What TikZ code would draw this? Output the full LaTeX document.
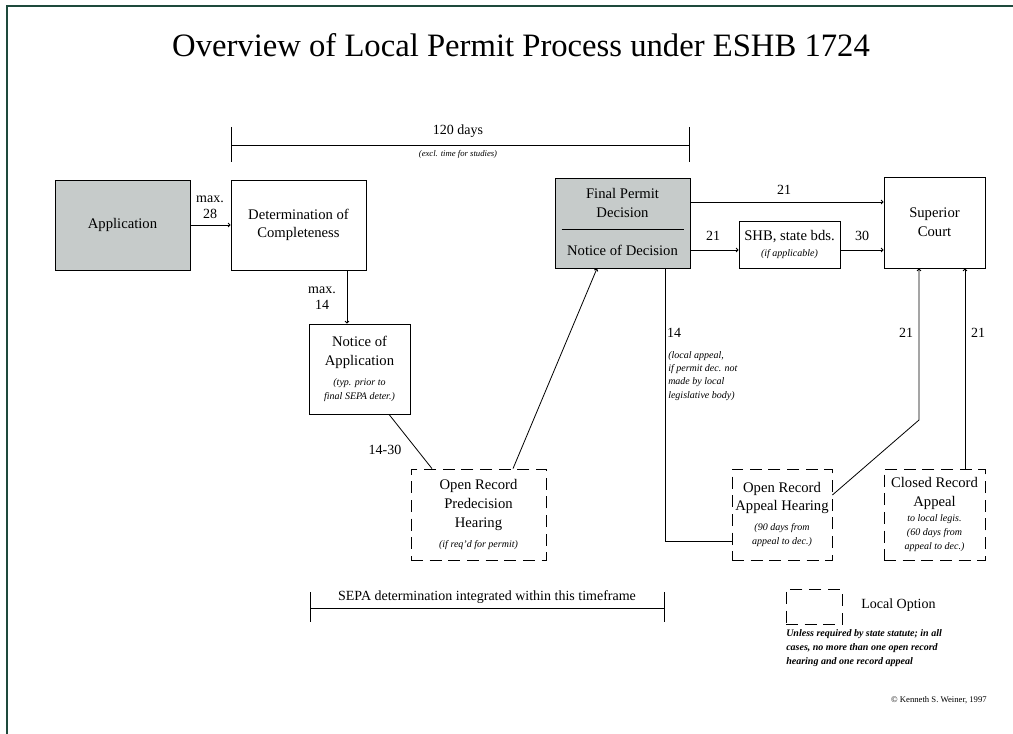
\documentclass[tikz,border=0pt]{standalone}
\usepackage{fontspec}
\setmainfont{Liberation Serif}
\usetikzlibrary{arrows.meta,calc}

\definecolor{boxgray}{RGB}{198,203,202}
\definecolor{framegreen}{RGB}{30,74,60}

\newcommand{\boxfont}{\fontsize{11}{14}\selectfont}
\newcommand{\notefont}{\fontsize{7.5}{9.5}\selectfont\itshape}

\tikzset{
  box/.style={draw, line width=0.6pt, align=center, inner sep=1pt, font=\boxfont},
  shaded/.style={box, fill=boxgray},
  local/.style={box, dashed, dash pattern=on 9pt off 5pt},
  lbl/.style={inner sep=0pt, align=center, font=\fontsize{10.5}{12}\selectfont},
  line/.style={draw, line width=0.6pt},
  conn/.style={line, -{Straight Barb[length=1.5pt,width=3pt]}},
}

\begin{document}
\begin{tikzpicture}[x=0.75pt,y=0.75pt,yscale=-1,xscale=1]
\useasboundingbox (0,0) rectangle (1013,734);

% frame and title
\draw[framegreen, line width=2.2pt] (7,734) -- (7,6) -- (1013,6);
\node[font=\fontsize{24.5}{30}\selectfont] (title) at (521,45) {Overview of Local Permit Process under ESHB 1724};

% 120 days span
\coordinate (ta) at (231,145);
\coordinate (tb) at (689,145);
\draw[line] (ta) -- (tb);
\draw[line] ($(ta)+(0,-18)$) -- ($(ta)+(0,17)$);
\draw[line] ($(tb)+(0,-18)$) -- ($(tb)+(0,17)$);
\node[lbl] (days) at (458,131) {120 days};
\node[inner sep=0pt, font=\fontsize{6.5}{8}\selectfont\itshape] (excl) at (458,154) {(excl. time for studies)};

% boxes
\node[shaded, minimum width=101.25pt, minimum height=67.5pt] (app) at (122.5,225) {Application};
\node[box, minimum width=101.25pt, minimum height=67.5pt] (det) at (298.5,225) {Determination of\\Completeness};
\node[box, minimum width=75.75pt, minimum height=67.5pt] (notice) at (359.5,369)
  {Notice of\\Application\\[1pt]{\notefont (typ. prior to}\\[-3.5pt]{\notefont final SEPA deter.)}};
\node[local, minimum width=101.25pt, minimum height=68.25pt] (pre) at (478.5,514.5)
  {Open Record\\Predecision\\Hearing\\[1pt]{\notefont (if req'd for permit)}};
\node[shaded, minimum width=101.25pt, minimum height=67.5pt] (final) at (622.5,223) {};
\node[inner sep=0pt, align=center, font=\boxfont] (finaltop) at (622.5,203) {Final Permit\\Decision};
\node[inner sep=0pt, font=\boxfont] (finalbot) at (622.5,250) {Notice of Decision};
\draw[line] ($(final.west)+(7,6)$) -- ($(final.east)+(-6,6)$);
\node[box, minimum width=75.75pt, minimum height=35.25pt] (shb) at (789.5,244.5)
  {SHB, state bds.\\[-2pt]{\notefont (if applicable)}};
\node[box, minimum width=75.75pt, minimum height=68.25pt] (sup) at (934.5,222.5) {Superior\\Court};
\node[local, minimum width=75pt, minimum height=68.25pt] (oa) at (782,514.5)
  {Open Record\\Appeal Hearing\\[1pt]{\notefont (90 days from}\\[-3.5pt]{\notefont appeal to dec.)}};
\node[local, minimum width=75.75pt, minimum height=68.25pt] (closed) at (934.5,514.5)
  {Closed Record\\Appeal\\[-3pt]{\notefont to local legis.}\\[-3.5pt]{\notefont (60 days from}\\[-3.5pt]{\notefont appeal to dec.)}};

% connectors
\draw[conn] (app.east) -- (det.west);
\coordinate (dn) at ($(det.south)+(48.5,0)$);
\draw[conn] (dn) -- (dn |- notice.north);
\draw[line] ($(notice.south)+(29.5,0)$) -- ($(pre.north)+(-46.5,0)$);
\draw[conn] ($(pre.north)+(34.5,0)$) -- ($(final.south)+(-25.5,0)$);
\coordinate (fa) at ($(final.east)+(0,-21)$);
\draw[conn] (fa) -- (fa -| sup.west);
\coordinate (fb) at ($(final.east)+(0,27)$);
\draw[conn] (fb) -- (fb -| shb.west);
\draw[conn] (fb -| shb.east) -- (fb -| sup.west);
\coordinate (fc) at ($(final.south)+(42.5,0)$);
\draw[line] (fc) |- ($(oa.west)+(0,26.5)$);
\coordinate (kink) at (919,420);
\draw[conn] ($(oa.east)+(0,-19.5)$) -- (kink) -- (kink |- sup.south);
\coordinate (cr) at ($(closed.north)+(30.5,0)$);
\draw[conn] (cr) -- (cr |- sup.south);

% connector labels
\node[lbl] (l28) at (210,207) {max.\\28};
\node[lbl] (l14a) at (322,298) {max.\\14};
\node[lbl] (l1430) at (385,450) {14-30};
\node[lbl] (l21a) at (784,190) {21};
\node[lbl] (l21b) at (713,236) {21};
\node[lbl] (l30) at (862,236) {30};
\node[lbl] (l14b) at (674,333) {14};
\node[inner sep=0pt, anchor=north west, align=left, font=\fontsize{7.5}{10}\selectfont\itshape] (localnote) at (668,351)
  {(local appeal,\\if permit dec. not\\made by local\\legislative body)};
\node[lbl] (l21c) at (906,333) {21};
\node[lbl] (l21d) at (978,333) {21};

% SEPA span
\coordinate (sa) at (310,608);
\coordinate (sb) at (664,608);
\draw[line] (sa) -- (sb);
\draw[line] ($(sa)+(0,-16)$) -- ($(sa)+(0,14)$);
\draw[line] ($(sb)+(0,-16)$) -- ($(sb)+(0,14)$);
\node[lbl] (sepa) at (487,597) {SEPA determination integrated within this timeframe};

% legend
\node[local, minimum width=42pt, minimum height=26.25pt] (legend) at (814,607) {};
\node[lbl, anchor=west] (legendtxt) at (861,605) {Local Option};
\node[inner sep=0pt, anchor=north west, align=left, font=\fontsize{7.5}{10.5}\selectfont\bfseries\itshape] (unless) at (786,629)
  {Unless required by state statute; in all\\cases, no more than one open record\\hearing and one record appeal};
\node[inner sep=0pt, anchor=east, font=\fontsize{6.5}{8}\selectfont] (copy) at (987,700) {© Kenneth S. Weiner, 1997};
\end{tikzpicture}
\end{document}
